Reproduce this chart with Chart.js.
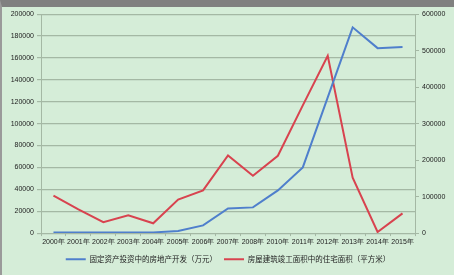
<!DOCTYPE html>
<html>
<head>
<meta charset="utf-8">
<script src="https://cdn.jsdelivr.net/npm/chart.js@4"></script>
<style>
  html, body { margin: 0; padding: 0; background: #d5edd8; }
  #frame {
    width: 452px; height: 268px;
    border-top: 7px solid #808080;
    border-left: 2px solid #9a9a9a;
    background: #d5edd8;
  }
  canvas { display: block; }
</style>
</head>
<body>
<div id="frame"><canvas id="chart" width="452" height="268"></canvas></div>
<script>
// categories and series
const years = ['2000年', '2001年', '2002年', '2003年', '2004年', '2005年', '2006年', '2007年',
    '2008年', '2010年', '2011年', '2012年', '2013年', '2014年', '2015年'];
const investment = [500, 500, 500, 500, 600, 2000, 7000, 22500, 23500, 39000, 60000, 124000, 188000, 169000, 170000];
const housingArea = [103000, 65000, 30000, 49000, 27000, 92000, 117000, 213000, 157000, 212000, 350000, 486000, 152000, 3000, 54000];
const seriesNames = ['固定资产投资中的房地产开发（万元）', '房屋建筑竣工面积中的住宅面积（平方米）'];

const tickFont = { family: 'Liberation Sans', size: 7 };
const gridColor = '#a4b8a4';

function fixWidth(w) {
    return function (axis) { axis.width = w; };
}

// plain numbers, no thousands separator
function plain(value) {
    return String(value);
}

const ctx = document.getElementById('chart').getContext('2d');
new Chart(ctx, {
    type: 'line',
    data: {
        labels: years,
        datasets: [{
            label: seriesNames[0],
            data: investment,
            yAxisID: 'y',
            borderColor: '#4f7fcc',
            backgroundColor: '#4f7fcc',
            borderWidth: 2,
            pointRadius: 0,
            tension: 0
        }, {
            label: seriesNames[1],
            data: housingArea,
            yAxisID: 'y1',
            borderColor: '#d8434f',
            backgroundColor: '#d8434f',
            borderWidth: 2,
            pointRadius: 0,
            tension: 0
        }]
    },
    options: {
        responsive: false,
        animation: false,
        layout: { padding: { top: 6, bottom: 2, left: 0, right: 0 } },
        plugins: {
            legend: {
                position: 'bottom',
                labels: {
                    usePointStyle: true,
                    pointStyle: 'line',
                    pointStyleWidth: 20,
                    boxHeight: 7,
                    padding: 7,
                    color: '#222',
                    font: { family: 'Noto Sans CJK SC', size: 7.5 }
                }
            },
            tooltip: { enabled: false }
        },
        scales: {
            x: {
                offset: true,
                grid: { drawOnChartArea: false, offset: true, tickLength: 3, color: gridColor },
                border: { color: gridColor },
                ticks: { color: '#222', font: tickFont, maxRotation: 0, autoSkip: false, padding: 2 }
            },
            y: {
                position: 'left',
                min: 0,
                max: 200000,
                afterFit: fixWidth(39),
                grid: { color: gridColor, lineWidth: 1.2, tickLength: 4 },
                border: { color: gridColor },
                ticks: { stepSize: 20000, color: '#222', font: tickFont, padding: 3, callback: plain }
            },
            y1: {
                position: 'right',
                min: 0,
                max: 600000,
                afterFit: fixWidth(39),
                grid: { drawOnChartArea: false, color: gridColor, tickLength: 4 },
                border: { color: gridColor },
                ticks: { stepSize: 100000, color: '#222', font: tickFont, padding: 3, callback: plain }
            }
        }
    }
});
</script>
</body>
</html>
